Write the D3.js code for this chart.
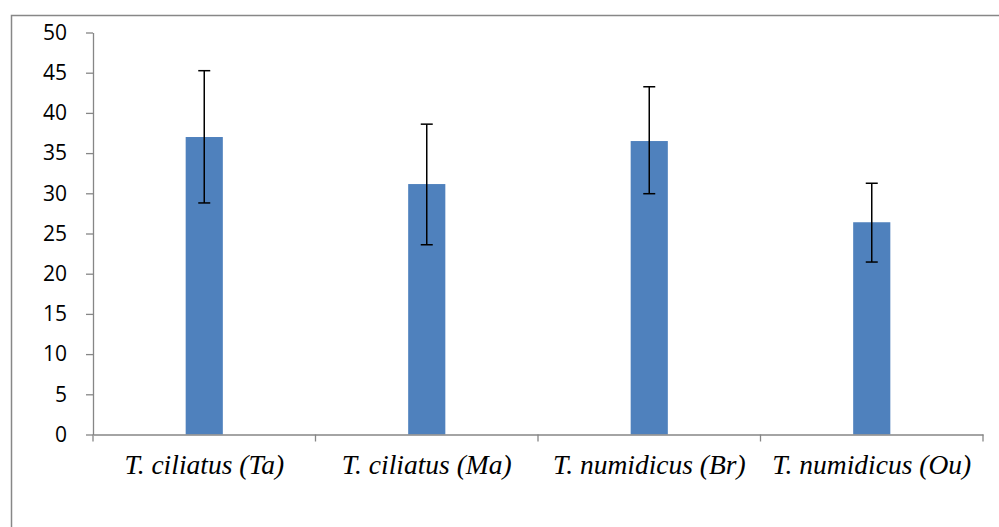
<!DOCTYPE html>
<html>
<head>
<meta charset="utf-8">
<script src="https://cdn.jsdelivr.net/npm/d3@7"></script>
<style>
  body { margin: 0; background: #fff; }
  svg { display: block; }
</style>
</head>
<body>
<div id="chart"></div>
<script>
// Data
const categories = ['T. ciliatus (Ta)', 'T. ciliatus (Ma)', 'T. numidicus (Br)', 'T. numidicus (Ou)'];
const means = [37.0, 31.15, 36.5, 26.4];
const errLow = [28.8, 23.6, 29.95, 21.45];
const errHigh = [45.25, 38.6, 43.25, 31.25];
const yTicks = [0, 5, 10, 15, 20, 25, 30, 35, 40, 45, 50];

const data = categories.map((c, i) => ({ cat: c, mean: means[i], lo: errLow[i], hi: errHigh[i] }));

const width = 999;
const height = 527;
const margin = { top: 32.5, right: 16, bottom: 92.5, left: 93 };

const svg = d3.select('#chart').append('svg')
    .attr('width', width)
    .attr('height', height);

// Outer chart frame (runs off the right and bottom edges)
svg.append('rect')
    .attr('x', 11.5)
    .attr('y', 15.5)
    .attr('width', 1000)
    .attr('height', 600)
    .attr('fill', 'none')
    .attr('stroke', '#878787')
    .attr('stroke-width', 1.5);

const xScale = d3.scaleBand()
    .domain(categories)
    .range([margin.left, width - margin.right]);

const yScale = d3.scaleLinear()
    .domain([0, 50])
    .range([height - margin.bottom, margin.top]);

const barWidth = xScale.bandwidth() * 0.167;

// Bars
svg.selectAll('rect.bar')
    .data(data)
    .enter().append('rect')
    .attr('class', 'bar')
    .attr('x', d => xScale(d.cat) + xScale.bandwidth() / 2 - barWidth / 2)
    .attr('y', d => yScale(d.mean))
    .attr('width', barWidth)
    .attr('height', d => yScale(0) - yScale(d.mean))
    .attr('fill', '#4F81BD');

// Y axis
const yAxis = svg.append('g')
    .attr('transform', `translate(${margin.left}, 0)`)
    .call(d3.axisLeft(yScale).tickValues(yTicks).tickSize(7).tickPadding(19).tickSizeOuter(0));

yAxis.select('.domain').attr('stroke', '#868686').attr('stroke-width', 1.3);
yAxis.selectAll('.tick line').attr('stroke', '#868686').attr('stroke-width', 1.3);
yAxis.selectAll('.tick text')
    .style('font-family', '"Open Sans", "Liberation Sans", sans-serif')
    .style('font-size', '21px')
    .attr('fill', '#000');

// X axis with ticks at category boundaries
const xAxis = svg.append('g')
    .attr('transform', `translate(0, ${yScale(0)})`)
    .call(d3.axisBottom(xScale).tickSize(0).tickPadding(20));

xAxis.select('.domain').attr('stroke', '#868686').attr('stroke-width', 1.3);
xAxis.selectAll('.tick text')
    .style('font-family', '"Liberation Serif", "Times New Roman", serif')
    .style('font-style', 'italic')
    .style('font-size', '27.5px')
    .attr('fill', '#000');

const boundaries = categories.map(c => xScale(c)).concat([xScale.range()[1]]);
xAxis.selectAll('line.bound')
    .data(boundaries)
    .enter().append('line')
    .attr('class', 'bound')
    .attr('x1', d => d)
    .attr('x2', d => d)
    .attr('y1', 0)
    .attr('y2', 7)
    .attr('stroke', '#868686')
    .attr('stroke-width', 1.3);

// Error bars
const capHalf = 6;
const errs = svg.append('g').attr('class', 'errors');

errs.selectAll('line.stem')
    .data(data)
    .enter().append('line')
    .attr('class', 'stem')
    .attr('x1', d => xScale(d.cat) + xScale.bandwidth() / 2)
    .attr('x2', d => xScale(d.cat) + xScale.bandwidth() / 2)
    .attr('y1', d => yScale(d.lo))
    .attr('y2', d => yScale(d.hi))
    .attr('stroke', '#000')
    .attr('stroke-width', 1.5);

['lo', 'hi'].forEach(k => {
    errs.selectAll(`line.cap-${k}`)
        .data(data)
        .enter().append('line')
        .attr('class', `cap-${k}`)
        .attr('x1', d => xScale(d.cat) + xScale.bandwidth() / 2 - capHalf)
        .attr('x2', d => xScale(d.cat) + xScale.bandwidth() / 2 + capHalf)
        .attr('y1', d => yScale(d[k]))
        .attr('y2', d => yScale(d[k]))
        .attr('stroke', '#000')
        .attr('stroke-width', 1.5);
});
</script>
</body>
</html>
